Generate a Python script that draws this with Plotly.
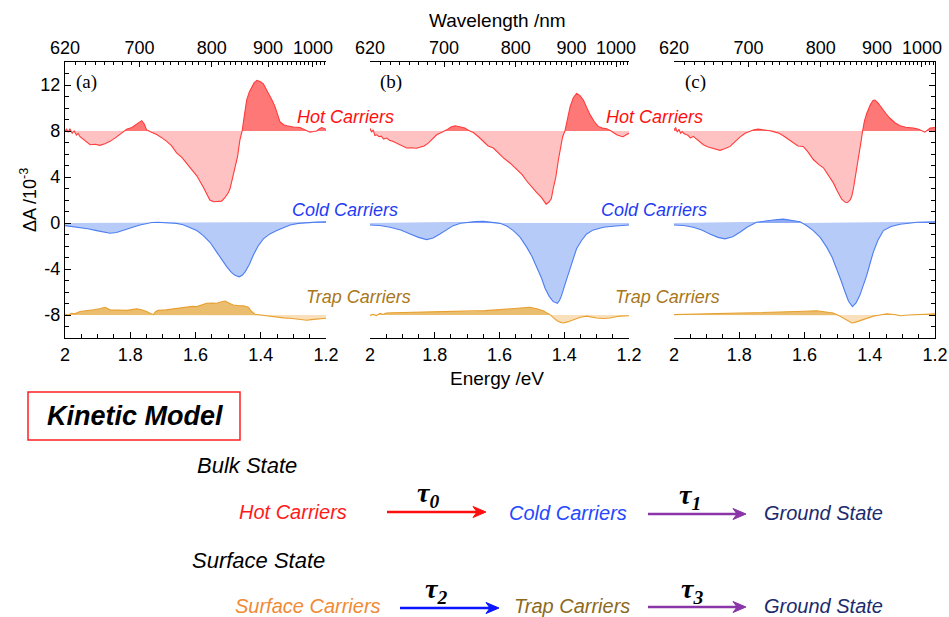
import numpy as np
import plotly.graph_objects as go

W, H = 949, 617

# ---------------------------------------------------------------------------
# Transient absorption spectra (ΔA in units of 1e-3) versus probe energy (eV)
# Three panels (a), (b), (c); each with hot, cold and trap carrier components.
# ---------------------------------------------------------------------------
E_HOT_A = [2.0, 1.995, 1.99, 1.985, 1.978, 1.972, 1.965, 1.96, 1.954, 1.94, 1.923, 1.908,
           1.893, 1.878, 1.862, 1.846, 1.831, 1.811, 1.795, 1.785, 1.775, 1.765, 1.757,
           1.75, 1.735, 1.719, 1.703, 1.688, 1.673, 1.658, 1.642, 1.627, 1.611, 1.596,
           1.576, 1.566, 1.556, 1.545, 1.533, 1.52, 1.51, 1.5, 1.494, 1.487, 1.479, 1.471,
           1.464, 1.457, 1.45, 1.443, 1.435, 1.428, 1.42, 1.412, 1.402, 1.392, 1.382,
           1.372, 1.364, 1.356, 1.348, 1.341, 1.33, 1.32, 1.3, 1.28, 1.265, 1.249, 1.238,
           1.229, 1.22, 1.213, 1.2]
HOT_A = [0.0, 0.15, -0.1, 0.2, -0.2, 0.0, -0.35, -0.2, -0.5, -0.85, -1.2, -1.15,
         -1.25, -1.1, -0.9, -0.6, -0.3, 0.15, 0.3, 0.5, 0.7, 0.9, 0.6,
         0.1, -0.1, -0.3, -0.6, -0.9, -1.3, -1.9, -2.3, -2.8, -3.3, -3.9,
         -4.9, -5.4, -6.0, -6.15, -6.15, -6.1, -5.8, -5.4, -5.0, -4.2, -3.35, -2.2,
         -0.8, 0.0, 1.4, 2.7, 3.4, 3.8, 4.2, 4.4, 4.3, 4.1, 3.6,
         3.1, 2.6, 2.1, 1.4, 0.8, 0.55, 0.45, 0.35, 0.3, 0.1, -0.1, -0.05,
         0.0, 0.2, 0.3, 0.15]

E_COLD_A = [2.0, 1.954, 1.93, 1.903, 1.882, 1.862, 1.842, 1.821, 1.795, 1.77, 1.75, 1.734,
            1.715, 1.699, 1.68, 1.658, 1.638, 1.617, 1.596, 1.576, 1.555, 1.535, 1.52,
            1.504, 1.49, 1.479, 1.466, 1.457, 1.448, 1.435, 1.423, 1.408, 1.392, 1.372,
            1.351, 1.33, 1.31, 1.285, 1.259, 1.23, 1.2]
COLD_A = [-0.23, -0.37, -0.5, -0.66, -0.8, -0.89, -0.82, -0.66, -0.4, -0.17, -0.03, 0.05,
          0.06, 0.05, 0.02, -0.03, -0.15, -0.37, -0.65, -1.09, -1.7, -2.53, -3.2,
          -3.82, -4.3, -4.54, -4.68, -4.55, -4.25, -3.6, -2.8, -2.0, -1.38, -0.95,
          -0.66, -0.4, -0.17, -0.03, 0.05, 0.08, 0.1]

E_TRAP_A = [2.0, 1.99, 1.98, 1.97, 1.954, 1.935, 1.913, 1.895, 1.877, 1.862, 1.84, 1.811,
            1.78, 1.765, 1.75, 1.735, 1.729, 1.722, 1.714, 1.69, 1.668, 1.645, 1.627,
            1.61, 1.596, 1.58, 1.566, 1.55, 1.535, 1.52, 1.509, 1.495, 1.484, 1.465,
            1.453, 1.438, 1.428, 1.418, 1.4, 1.382, 1.365, 1.351, 1.33, 1.31, 1.28,
            1.259, 1.245, 1.229, 1.2]
TRAP_A = [0.07, 0.0, 0.15, 0.1, 0.3, 0.35, 0.45, 0.55, 0.67, 0.45, 0.4, 0.4,
          0.53, 0.45, 0.3, 0.1, 0.03, 0.3, 0.4, 0.45, 0.53, 0.65, 0.73,
          0.75, 0.73, 0.9, 1.02, 1.05, 1.02, 1.15, 1.22, 1.0, 0.87, 0.8,
          0.79, 0.67, 0.3, 0.07, 0.0, -0.05, -0.12, -0.2, -0.25, -0.28, -0.38,
          -0.45, -0.4, -0.36, -0.28]

E_HOT_B = [2.0, 1.995, 1.99, 1.985, 1.979, 1.972, 1.965, 1.958, 1.948, 1.94, 1.93, 1.918,
           1.905, 1.887, 1.87, 1.857, 1.846, 1.833, 1.82, 1.807, 1.794, 1.778, 1.763,
           1.75, 1.737, 1.72, 1.707, 1.695, 1.681, 1.665, 1.65, 1.635, 1.619, 1.604,
           1.588, 1.567, 1.547, 1.53, 1.516, 1.5, 1.485, 1.47, 1.462, 1.456, 1.448,
           1.44, 1.434, 1.426, 1.418, 1.41, 1.405, 1.398, 1.39, 1.382, 1.372, 1.362,
           1.352, 1.341, 1.33, 1.32, 1.307, 1.295, 1.282, 1.269, 1.255, 1.238, 1.225,
           1.218, 1.21, 1.2]
HOT_B = [0.25, -0.1, 0.1, -0.4, -0.33, -0.5, -0.45, -0.7, -0.61, -0.8, -0.9, -1.05,
         -1.2, -1.48, -1.45, -1.5, -1.42, -1.3, -1.05, -0.7, -0.33, -0.1, 0.1,
         0.35, 0.45, 0.35, 0.25, 0.05, -0.13, -0.5, -0.9, -1.3, -1.48, -1.9,
         -2.34, -2.8, -3.34, -3.8, -4.35, -4.9, -5.36, -5.8, -6.1, -6.36, -6.2,
         -5.9, -5.0, -4.0, -2.5, -1.2, -0.5, 0.0, 1.0, 2.1, 2.9, 3.27,
         3.1, 2.7, 2.0, 1.4, 0.8, 0.4, 0.25, 0.2, 0.0, -0.33, -0.45,
         -0.5, -0.35, -0.2]

E_COLD_B = [2.0, 1.97, 1.938, 1.905, 1.876, 1.85, 1.825, 1.805, 1.784, 1.763, 1.743, 1.72,
            1.701, 1.675, 1.65, 1.625, 1.598, 1.578, 1.557, 1.536, 1.516, 1.5, 1.485,
            1.47, 1.459, 1.446, 1.434, 1.421, 1.414, 1.408, 1.395, 1.382, 1.372, 1.362,
            1.346, 1.331, 1.31, 1.279, 1.25, 1.228, 1.2]
COLD_B = [-0.17, -0.22, -0.37, -0.6, -0.95, -1.25, -1.44, -1.3, -0.95, -0.55, -0.23, -0.02,
          0.06, 0.12, 0.14, 0.08, -0.03, -0.25, -0.66, -1.25, -2.1, -2.9, -3.82,
          -4.8, -5.7, -6.4, -6.84, -6.98, -6.7, -6.27, -5.1, -3.97, -3.0, -2.24,
          -1.5, -0.95, -0.6, -0.37, -0.28, -0.23, -0.17]

E_TRAP_B = [2.0, 1.99, 1.98, 1.969, 1.96, 1.95, 1.93, 1.887, 1.84, 1.784, 1.73, 1.681,
            1.645, 1.609, 1.58, 1.557, 1.53, 1.506, 1.485, 1.465, 1.455, 1.444, 1.433,
            1.423, 1.413, 1.403, 1.39, 1.372, 1.35, 1.331, 1.315, 1.3, 1.28, 1.259,
            1.24, 1.228, 1.2]
TRAP_B = [-0.03, 0.05, -0.05, 0.14, 0.05, 0.18, 0.2, 0.22, 0.25, 0.3, 0.3, 0.3,
          0.38, 0.45, 0.52, 0.6, 0.64, 0.67, 0.55, 0.37, 0.2, 0.03, -0.25,
          -0.48, -0.62, -0.69, -0.6, -0.4, -0.2, -0.1, -0.2, -0.26, -0.3, -0.26,
          -0.15, -0.1, -0.06]

E_HOT_C = [2.0, 1.995, 1.99, 1.985, 1.98, 1.975, 1.971, 1.965, 1.958, 1.95, 1.941, 1.93,
           1.92, 1.91, 1.895, 1.88, 1.87, 1.859, 1.845, 1.828, 1.812, 1.798, 1.782,
           1.767, 1.755, 1.742, 1.725, 1.706, 1.69, 1.678, 1.665, 1.65, 1.634, 1.62,
           1.604, 1.59, 1.573, 1.555, 1.542, 1.528, 1.512, 1.5, 1.486, 1.475, 1.468,
           1.46, 1.455, 1.45, 1.445, 1.438, 1.432, 1.426, 1.422, 1.416, 1.409, 1.398,
           1.39, 1.384, 1.375, 1.363, 1.35, 1.338, 1.322, 1.307, 1.29, 1.266, 1.25,
           1.231, 1.222, 1.215, 1.2]
HOT_C = [0.1, 0.3, -0.1, 0.15, -0.2, -0.05, -0.18, -0.3, -0.35, -0.6, -0.47, -0.75,
         -0.95, -1.19, -1.4, -1.5, -1.55, -1.68, -1.55, -1.34, -0.9, -0.53, -0.2,
         -0.04, 0.1, 0.16, 0.1, 0.02, -0.1, -0.2, -0.41, -0.7, -1.05, -1.3,
         -1.34, -1.8, -2.48, -2.95, -3.2, -3.8, -4.49, -5.2, -5.93, -6.2, -6.22,
         -6.0, -5.65, -5.0, -4.2, -3.0, -1.9, -0.8, 0.0, 0.9, 1.54, 2.3,
         2.65, 2.69, 2.45, 1.97, 1.5, 1.11, 0.7, 0.45, 0.32, 0.25, 0.15,
         -0.1, 0.1, 0.25, 0.3]

E_COLD_C = [2.0, 1.97, 1.941, 1.915, 1.89, 1.865, 1.844, 1.82, 1.798, 1.775, 1.747, 1.72,
            1.69, 1.665, 1.64, 1.614, 1.595, 1.573, 1.552, 1.532, 1.515, 1.501, 1.488,
            1.476, 1.465, 1.453, 1.442, 1.43, 1.42, 1.409, 1.399, 1.389, 1.375, 1.358,
            1.335, 1.307, 1.28, 1.256, 1.23, 1.2]
COLD_C = [-0.17, -0.22, -0.37, -0.6, -0.95, -1.25, -1.38, -1.2, -0.8, -0.35, 0.06, 0.18,
          0.28, 0.34, 0.25, 0.11, -0.2, -0.66, -1.25, -2.1, -3.0, -3.97, -5.0,
          -5.98, -6.8, -7.27, -6.95, -6.27, -5.5, -4.54, -3.5, -2.53, -1.5, -0.66,
          -0.3, -0.11, -0.02, 0.06, 0.08, 0.11]

E_TRAP_C = [2.0, 1.98, 1.95, 1.9, 1.85, 1.798, 1.75, 1.696, 1.644, 1.6, 1.563, 1.54,
            1.512, 1.495, 1.481, 1.468, 1.455, 1.443, 1.43, 1.41, 1.389, 1.368, 1.348,
            1.325, 1.307, 1.28, 1.256, 1.23, 1.2]
TRAP_C = [0.03, 0.05, 0.08, 0.1, 0.13, 0.17, 0.2, 0.23, 0.3, 0.33, 0.37, 0.3,
          0.17, -0.05, -0.26, -0.5, -0.69, -0.62, -0.49, -0.3, -0.1, 0.0, 0.1,
          0.05, -0.06, 0.0, 0.03, 0.08, 0.1]

# vertical offsets used to stack the components
OFFSET_HOT, OFFSET_COLD, OFFSET_TRAP = 8, 0, -8

PANELS = [
    ("(a)", [(E_HOT_A, HOT_A), (E_COLD_A, COLD_A), (E_TRAP_A, TRAP_A)]),
    ("(b)", [(E_HOT_B, HOT_B), (E_COLD_B, COLD_B), (E_TRAP_B, TRAP_B)]),
    ("(c)", [(E_HOT_C, HOT_C), (E_COLD_C, COLD_C), (E_TRAP_C, TRAP_C)]),
]

# axis ticks
E_TICKS = [2.0, 1.8, 1.6, 1.4, 1.2]
E_TICK_TEXT = ["2", "1.8", "1.6", "1.4", "1.2"]
E_MINOR = [round(2.0 - 0.05 * k, 3) for k in range(17)]
WL_TICKS = [620, 700, 800, 900, 1000]
WL_MINOR = list(range(630, 1040, 10))
Y_TICKS = [-8, -4, 0, 4, 8, 12]
Y_TICK_TEXT = ["-8", "-4", "0", "4", "8", "12"]

# styles: (offset, line colour, fill above offset, fill below offset)
STYLES = [
    (OFFSET_HOT, "#ff3b3b", "#ff7878", "#ffc2c2"),
    (OFFSET_COLD, "#4d7ef2", "#8fabf3", "#b7cbf8"),
    (OFFSET_TRAP, "#e8a030", "#ebbd6e", "#f9e0ba"),
]

# pixel layout of the panels
X_DOM_PX = [(65, 326), (370, 629), (674, 935)]
Y_TOP_PX, Y_BOT_PX = 62, 338


def px(x):
    return x / W


def py(y):
    return 1 - y / H


def split_at_base(e, v, base):
    """Return x, upper, lower arrays with crossings of the baseline inserted."""
    e = np.asarray(e, float)
    v = np.asarray(v, float) + base
    xs, ys = [e[0]], [v[0]]
    for i in range(1, len(e)):
        a, b = v[i - 1] - base, v[i] - base
        if a * b < 0:
            t = a / (a - b)
            xs.append(e[i - 1] + t * (e[i] - e[i - 1]))
            ys.append(base)
        xs.append(e[i])
        ys.append(v[i])
    xs, ys = np.array(xs), np.array(ys)
    return xs, np.maximum(ys, base), np.minimum(ys, base)


fig = go.Figure()
FONT = "Liberation Sans, Arial, sans-serif"
SERIF = "Liberation Serif, Times New Roman, serif"

for p, (letter, comps) in enumerate(PANELS):
    xa = "x" if p == 0 else f"x{p + 1}"
    ya = "y" if p == 0 else f"y{p + 1}"
    for (e, v), (base, lc, fup, fdn) in zip(comps, STYLES):
        xs, up, dn = split_at_base(e, v, base)
        for part, col in ((up, fup), (dn, fdn)):
            fig.add_trace(go.Scatter(x=xs, y=np.full(len(xs), base), mode="lines",
                                     line=dict(width=0, color=col), xaxis=xa, yaxis=ya,
                                     hoverinfo="skip", showlegend=False))
            fig.add_trace(go.Scatter(x=xs, y=part, mode="lines", fill="tonexty",
                                     fillcolor=col, line=dict(width=0, color=col),
                                     xaxis=xa, yaxis=ya, hoverinfo="skip",
                                     showlegend=False))
        fig.add_trace(go.Scatter(x=np.asarray(e), y=np.asarray(v) + base, mode="lines",
                                 line=dict(width=1.1, color=lc), xaxis=xa, yaxis=ya,
                                 showlegend=False))
    # empty trace to keep the wavelength axis drawn
    fig.add_trace(go.Scatter(x=[2.0, 1.2], y=[None, None], mode="lines",
                             xaxis=f"x{p + 4}", yaxis=ya, showlegend=False,
                             hoverinfo="skip"))

tickfont = dict(family=FONT, size=18, color="black")
layout = dict(
    width=W, height=H, margin=dict(l=0, r=0, t=0, b=0, autoexpand=False),
    paper_bgcolor="white", plot_bgcolor="rgba(0,0,0,0)", showlegend=False,
)

for p, (x0, x1) in enumerate(X_DOM_PX):
    sfx = "" if p == 0 else str(p + 1)
    yname = "y" if p == 0 else f"y{p + 1}"
    xname = "x" if p == 0 else f"x{p + 1}"
    layout[f"xaxis{sfx}"] = dict(
        domain=[px(x0), px(x1)], range=[2.0, 1.2], anchor=yname, automargin=False,
        showline=True, linecolor="black", linewidth=1.2, mirror=False,
        showgrid=False, zeroline=False, ticks="inside", ticklen=6, tickwidth=1,
        tickcolor="black", tickvals=E_TICKS, ticktext=E_TICK_TEXT, tickfont=tickfont,
        minor=dict(ticks="inside", ticklen=4, tickcolor="black", tickvals=E_MINOR),
    )
    layout[f"xaxis{p + 4}"] = dict(
        overlaying=xname, side="top", range=[2.0, 1.2], anchor=yname, automargin=False,
        showline=True, linecolor="black", linewidth=1.2, showgrid=False,
        zeroline=False, ticks="inside", ticklen=5, tickwidth=1, tickcolor="black",
        tickvals=[1240.0 / w for w in WL_TICKS], ticktext=[str(w) for w in WL_TICKS],
        tickfont=tickfont,
        minor=dict(ticks="inside", ticklen=3, tickcolor="black",
                   tickvals=[1240.0 / w for w in WL_MINOR]),
    )
    ydict = dict(domain=[py(Y_BOT_PX), py(Y_TOP_PX)], range=[-10, 14], anchor=xname,
                 automargin=False, showgrid=False, zeroline=False)
    if p == 0:
        ydict.update(showline=True, linecolor="black", linewidth=1.2, ticks="inside",
                     ticklen=6, tickcolor="black", tickvals=Y_TICKS,
                     ticktext=Y_TICK_TEXT, tickfont=tickfont,
                     minor=dict(ticks="inside", ticklen=4, tickcolor="black", dtick=1))
    elif p == 2:
        ydict.update(side="right", showline=True, linecolor="black", linewidth=1.2,
                     ticks="inside", ticklen=6, tickcolor="black", tickvals=Y_TICKS,
                     showticklabels=False,
                     minor=dict(ticks="inside", ticklen=4, tickcolor="black", dtick=1))
    else:
        ydict.update(showline=False, ticks="", showticklabels=False)
    layout[f"yaxis{sfx}"] = ydict

fig.update_layout(**layout)

ann = []
shapes = []


def text(x, y, s, size=19, color="black", family=FONT, angle=0, xanchor="center"):
    ann.append(dict(x=px(x), y=py(y), xref="paper", yref="paper", text=s,
                    showarrow=False, xanchor=xanchor, yanchor="middle",
                    textangle=angle, font=dict(family=family, size=size, color=color)))


# axis titles
text(497, 21, "Wavelength /nm", size=19)
text(497, 378, "Energy /eV", size=19)
text(28, 200, "ΔA /10<sup>-3</sup>", size=18, angle=-90)

# panel letters
for (x0, _), (letter, _) in zip(X_DOM_PX, PANELS):
    text(x0 + 21, 82, letter, size=19, family=SERIF)

# component labels
HOT_COL, COLD_COL, TRAP_COL = "#ff1010", "#1f3cf5", "#a8781a"
for dx in (0, 309):
    text(345 + dx, 117, "<i>Hot Carriers</i>", size=18, color=HOT_COL)
    text(345 + dx, 210, "<i>Cold Carriers</i>", size=18, color=COLD_COL)
    text(358 + dx, 297, "<i>Trap Carriers</i>", size=18, color=TRAP_COL)

# kinetic model scheme
shapes.append(dict(type="rect", xref="paper", yref="paper", x0=px(28), x1=px(240),
                   y0=py(440), y1=py(392), line=dict(color="#ff2020", width=1.5),
                   fillcolor="white", layer="below"))
text(135, 416, "<b><i>Kinetic Model</i></b>", size=27)
text(247, 465, "<i>Bulk State</i>", size=22)
text(258, 560, "<i>Surface State</i>", size=22)

GROUND_COL = "#1c2a6e"
text(293, 512, "<i>Hot Carriers</i>", size=20, color="#ff1a1a")
text(568, 513, "<i>Cold Carriers</i>", size=20, color="#2448ff")
text(823, 513, "<i>Ground State</i>", size=20, color=GROUND_COL)
text(308, 606, "<i>Surface Carriers</i>", size=20, color="#f08a35")
text(572, 606, "<i>Trap Carriers</i>", size=20, color="#8c6a1c")
text(823, 606, "<i>Ground State</i>", size=20, color=GROUND_COL)

TAU_FONT = SERIF
for x, y, sub in ((428, 494, "0"), (690, 496, "1"), (436, 590, "2"), (692, 590, "3")):
    text(x, y, f"<b><i>τ<sub>{sub}</sub></i></b>", size=28, family=TAU_FONT)


def arrow(x0, x1, y, color, width=2.6, head_len=13, head_half=5.5, notch=9):
    """Reaction arrow: a shaft plus a barbed head, placed in page pixels."""
    shapes.append(dict(type="line", xref="paper", yref="paper",
                       x0=px(x0), x1=px(x1 - notch + 1), y0=py(y), y1=py(y),
                       line=dict(color=color, width=width)))
    path = (f"M {px(x1)},{py(y)} L {px(x1 - head_len)},{py(y - head_half)} "
            f"L {px(x1 - notch)},{py(y)} L {px(x1 - head_len)},{py(y + head_half)} Z")
    shapes.append(dict(type="path", xref="paper", yref="paper", path=path,
                       fillcolor=color, line=dict(color=color, width=1)))


arrow(387, 486, 512, "#ff1010")
arrow(648, 746, 514, "#8a35a8")
arrow(400, 499, 608, "#0a14ff")
arrow(648, 746, 607, "#8a35a8")

fig.update_layout(annotations=ann, shapes=shapes)
fig.write_html("out.html")
